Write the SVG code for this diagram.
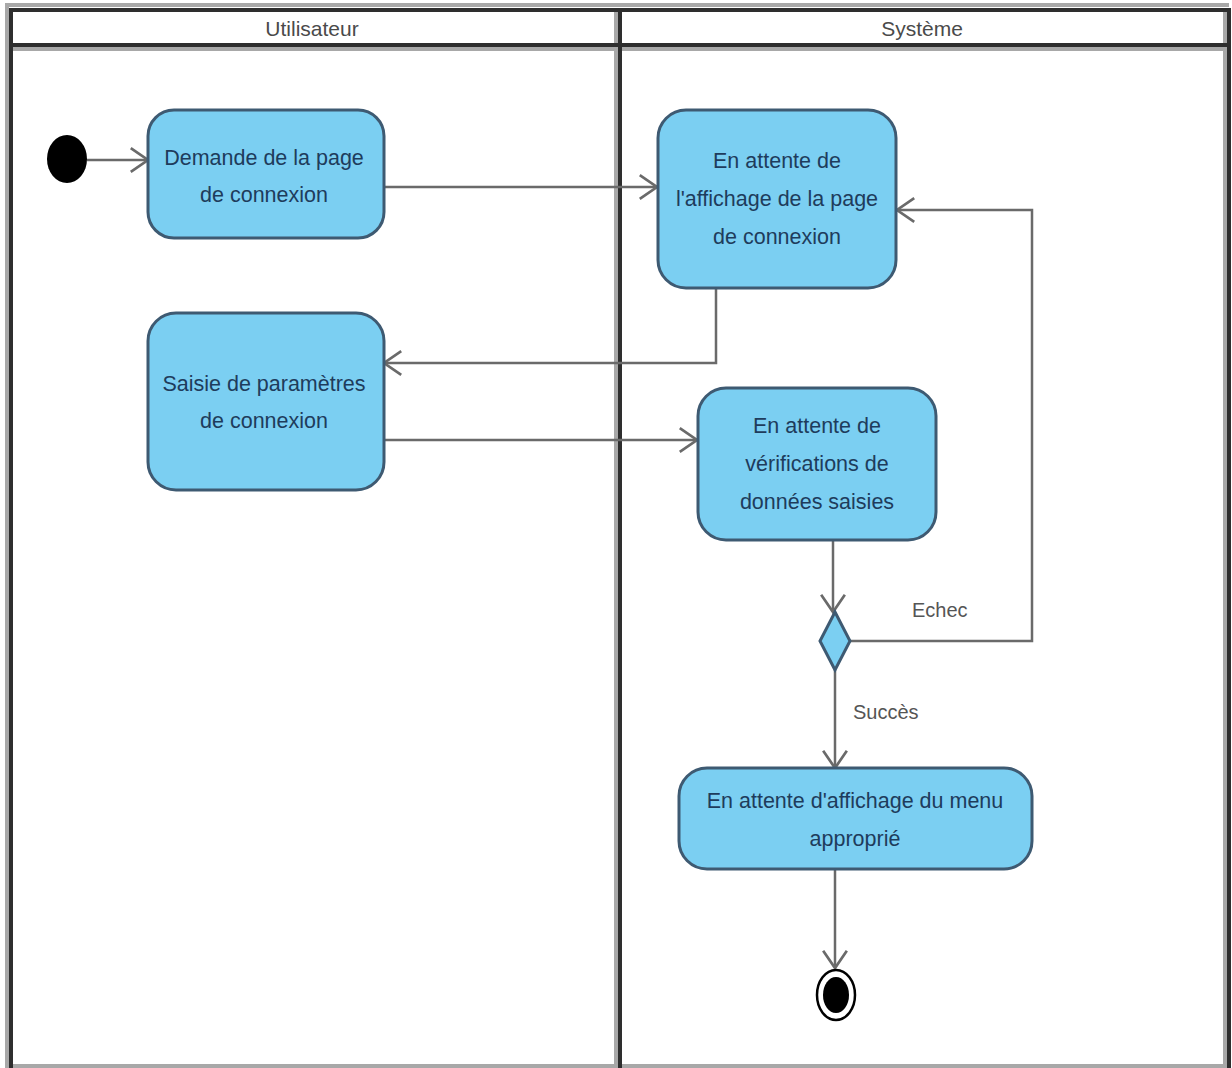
<svg xmlns="http://www.w3.org/2000/svg" width="1232" height="1068" viewBox="0 0 1232 1068">
<style>
.node{fill:#7bcff2;stroke:#3e5a72;stroke-width:3}
.ntext{font-family:"Liberation Sans",Arial,sans-serif;font-size:21.5px;fill:#1e3c5c;text-anchor:middle}
.lane{font-family:"Liberation Sans",Arial,sans-serif;font-size:21px;fill:#4a4a4a;text-anchor:middle}
.lbl{font-family:"Liberation Sans",Arial,sans-serif;font-size:20px;fill:#555;}
.conn{fill:none;stroke:#6a6a6a;stroke-width:2.5;marker-end:url(#arr)}
.dark{stroke:#2e2e2e;stroke-width:4;fill:none}
.shade{stroke:#a8a8a8;stroke-width:4;fill:none}
</style>
<defs>
<marker id="arr" markerUnits="userSpaceOnUse" markerWidth="24" markerHeight="28" viewBox="-18 -13 20 26" refX="0" refY="0" orient="auto">
<path d="M -16 -11 L 0 0 L -16 11" fill="none" stroke="#6a6a6a" stroke-width="2.5"/>
</marker>
</defs>
<rect width="1232" height="1068" fill="#ffffff"/>
<g id="swimlanes">
<line class="shade" x1="5" y1="5" x2="1229" y2="5"/>
<line class="shade" x1="7" y1="5" x2="7" y2="1068"/>
<line class="shade" x1="616" y1="12" x2="616" y2="1068"/>
<line class="shade" x1="1225" y1="12" x2="1225" y2="1068"/>
<line class="shade" x1="7" y1="49" x2="1229" y2="49"/>
<line class="shade" x1="7" y1="1066" x2="1229" y2="1066"/>
<line class="dark" x1="9" y1="10" x2="1231" y2="10"/>
<line class="dark" x1="11" y1="8" x2="11" y2="1068"/>
<line class="dark" x1="620" y1="8" x2="620" y2="1068"/>
<line class="dark" x1="1229" y1="8" x2="1229" y2="1068"/>
<line class="dark" x1="9" y1="45" x2="1231" y2="45"/>
<text class="lane" x="312" y="36">Utilisateur</text>
<text class="lane" x="922" y="36">Système</text>
</g>
<g id="connectors">
<path class="conn" d="M 87 160 L 148 160"/>
<path class="conn" d="M 384 187 L 657 187"/>
<path class="conn" d="M 716 288 L 716 363 L 384 363"/>
<path class="conn" d="M 384 440 L 697 440"/>
<path class="conn" d="M 833 540 L 833 612"/>
<path class="conn" d="M 850 641 L 1032 641 L 1032 210 L 897 210"/>
<path class="conn" d="M 835 670 L 835 768"/>
<path class="conn" d="M 835 870 L 835 968"/>
<text class="lbl" x="912" y="617">Echec</text>
<text class="lbl" x="853" y="719">Succès</text>
</g>
<g id="start">
<ellipse cx="67" cy="159" rx="20" ry="24" fill="#000"/>
</g>
<g id="n1">
<rect class="node" x="148" y="110" width="236" height="128" rx="26" ry="26"/>
<text class="ntext" x="264" y="165">Demande de la page</text>
<text class="ntext" x="264" y="202">de connexion</text>
</g>
<g id="n2">
<rect class="node" x="658" y="110" width="238" height="178" rx="28" ry="28"/>
<text class="ntext" x="777" y="168">En attente de</text>
<text class="ntext" x="777" y="206">l'affichage de la page</text>
<text class="ntext" x="777" y="244">de connexion</text>
</g>
<g id="n3">
<rect class="node" x="148" y="313" width="236" height="177" rx="28" ry="28"/>
<text class="ntext" x="264" y="391">Saisie de paramètres</text>
<text class="ntext" x="264" y="428">de connexion</text>
</g>
<g id="n4">
<rect class="node" x="698" y="388" width="238" height="152" rx="28" ry="28"/>
<text class="ntext" x="817" y="433">En attente de</text>
<text class="ntext" x="817" y="471">vérifications de</text>
<text class="ntext" x="817" y="509">données saisies</text>
</g>
<g id="decision">
<polygon points="835,612 850,641 835,670 820,641" fill="#7bcff2" stroke="#3e5a72" stroke-width="3"/>
</g>
<g id="n5">
<rect class="node" x="679" y="768" width="353" height="101" rx="28" ry="28"/>
<text class="ntext" x="855" y="808">En attente d'affichage du menu</text>
<text class="ntext" x="855" y="846">approprié</text>
</g>
<g id="end">
<ellipse cx="836" cy="995" rx="19" ry="25" fill="#fff" stroke="#000" stroke-width="2.5"/>
<ellipse cx="836" cy="995" rx="13" ry="18" fill="#000"/>
</g>
</svg>
